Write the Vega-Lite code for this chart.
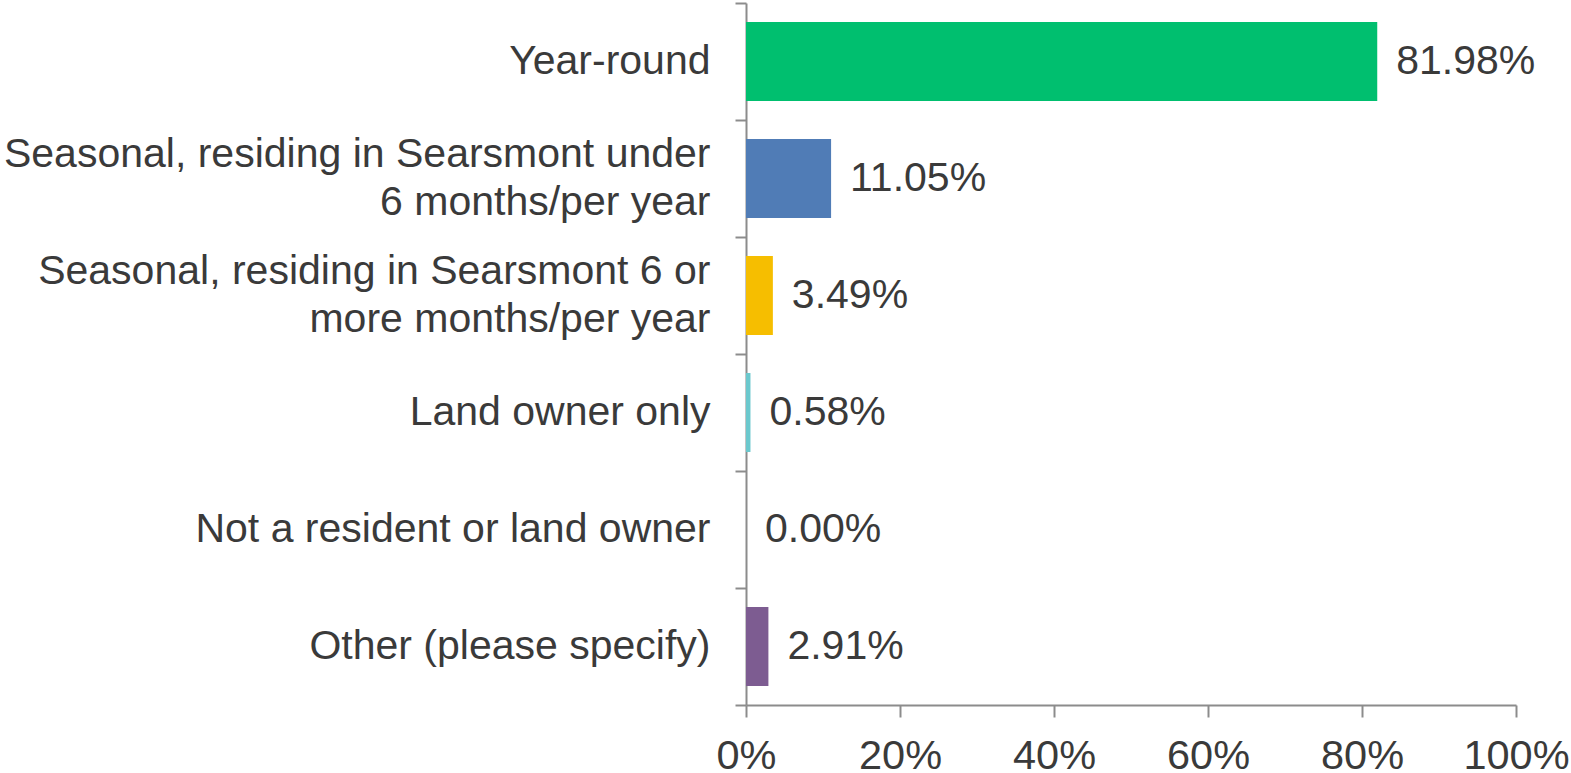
{
  "$schema": "https://vega.github.io/schema/vega-lite/v6.json",
  "autosize": {"type": "none"},
  "width": 770,
  "height": 702,
  "padding": {"left": 746, "top": 3, "right": 55, "bottom": 68},
  "background": "white",
  "config": {"view": {"stroke": null}, "font": "Liberation Sans"},
  "data": {
    "values": [
      {"category": "Year-round", "value": 0.8198, "color": "#00BF6F"},
      {"category": "Seasonal, residing in Searsmont under\n6 months/per year", "value": 0.1105, "color": "#507CB6"},
      {"category": "Seasonal, residing in Searsmont 6 or\nmore months/per year", "value": 0.0349, "color": "#F6BE00"},
      {"category": "Land owner only", "value": 0.0058, "color": "#6BC8CD"},
      {"category": "Not a resident or land owner", "value": 0.0, "color": "#A7A9AC"},
      {"category": "Other (please specify)", "value": 0.0291, "color": "#7D5C91"}
    ]
  },
  "encoding": {
    "y": {
      "field": "category",
      "type": "nominal",
      "sort": null,
      "scale": {"paddingInner": 0, "paddingOuter": 0},
      "axis": {
        "title": null,
        "tickBand": "extent",
        "labelExpr": "split(datum.label, '\\n')",
        "labelFontSize": 41,
        "labelLineHeight": 48,
        "labelOffset": {"expr": "length(split(datum.value, '\\n')) > 1 ? -24 : 0"},
        "labelColor": "#3a3a3a",
        "labelLimit": 800,
        "labelPadding": 25,
        "labelAlign": "right",
        "tickSize": 11,
        "tickColor": "#8c8c8c",
        "tickWidth": 2,
        "domainColor": "#8c8c8c",
        "domainWidth": 2
      }
    }
  },
  "layer": [
    {
      "mark": {"type": "bar", "height": {"band": 0.675}},
      "encoding": {
        "x": {
          "field": "value",
          "type": "quantitative",
          "scale": {"domain": [0, 1], "nice": false},
          "axis": {
            "title": null,
            "values": [0, 0.2, 0.4, 0.6, 0.8, 1],
            "format": ".0%",
            "grid": false,
            "labelFontSize": 41.5,
            "labelColor": "#3a3a3a",
            "labelPadding": 18,
            "labelFlush": false,
            "tickSize": 12,
            "tickColor": "#8c8c8c",
            "tickWidth": 2,
            "domainColor": "#8c8c8c",
            "domainWidth": 2
          }
        },
        "color": {"field": "color", "type": "nominal", "scale": null, "legend": null}
      }
    },
    {
      "mark": {"type": "text", "align": "left", "baseline": "middle", "dx": 19, "fontSize": 41, "color": "#3a3a3a"},
      "encoding": {
        "x": {"field": "value", "type": "quantitative"},
        "text": {"field": "value", "type": "quantitative", "format": ".2%"}
      }
    }
  ]
}
